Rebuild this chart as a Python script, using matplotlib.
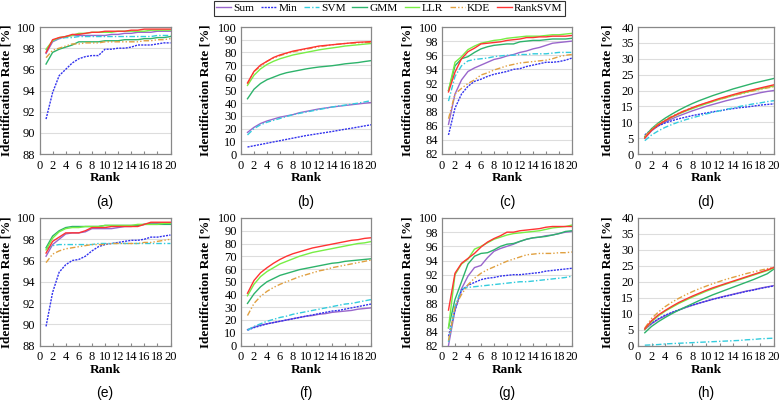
import matplotlib
matplotlib.use("Agg")
import matplotlib.pyplot as plt
import numpy as np

ranks = list(range(1, 21))
methods = ["Sum", "Min", "SVM", "GMM", "LLR", "KDE", "RankSVM"]
colors = {"Sum": "#9966CC", "Min": "#3333EE", "SVM": "#33CCDD", "GMM": "#2DB36B",
          "LLR": "#77EE44", "KDE": "#E0A040", "RankSVM": "#FF3333"}
styles = {"Sum": "-", "Min": (0, (1.5, 0.8)), "SVM": (0, (4, 1.5, 1, 1.5)), "GMM": "-",
          "LLR": "-", "KDE": (0, (4, 1.5, 1, 1.5, 1, 1.5)), "RankSVM": "-"}

# Panel (a)
a_sum = [97.5, 98.6, 98.9, 99.1, 99.2, 99.2, 99.2, 99.2, 99.2, 99.2, 99.3, 99.3, 99.4, 99.4, 99.5, 99.5, 99.5, 99.6, 99.6, 99.6]
a_min = [91.3, 93.8, 95.4, 96.0, 96.6, 97.0, 97.2, 97.3, 97.3, 97.9, 97.9, 98.0, 98.0, 98.1, 98.3, 98.3, 98.3, 98.4, 98.5, 98.5]
a_svm = [97.8, 98.7, 98.9, 99.0, 99.0, 99.1, 99.1, 99.1, 99.1, 99.1, 99.1, 99.1, 99.1, 99.1, 99.1, 99.1, 99.1, 99.2, 99.2, 99.2]
a_gmm = [96.5, 97.6, 97.9, 98.1, 98.3, 98.6, 98.6, 98.6, 98.6, 98.7, 98.7, 98.7, 98.8, 98.8, 98.8, 98.9, 98.9, 99.0, 99.0, 99.1]
a_llr = [97.9, 98.7, 99.0, 99.1, 99.2, 99.4, 99.4, 99.5, 99.5, 99.5, 99.5, 99.6, 99.6, 99.6, 99.6, 99.6, 99.7, 99.7, 99.7, 99.7]
a_kde = [97.1, 97.8, 98.0, 98.2, 98.4, 98.4, 98.5, 98.5, 98.5, 98.6, 98.6, 98.6, 98.6, 98.6, 98.6, 98.7, 98.7, 98.8, 98.8, 98.9]
a_rank = [97.6, 98.8, 99.0, 99.1, 99.3, 99.3, 99.4, 99.5, 99.5, 99.6, 99.6, 99.6, 99.6, 99.7, 99.7, 99.8, 99.8, 99.8, 99.8, 99.8]

# Panel (b)
b_sum = [17, 21, 24, 26, 27.5, 29, 30, 31, 32.5, 33.5, 34.5, 35.5, 36.2, 37, 37.6, 38.2, 38.8, 39.4, 40, 40.5]
b_min = [5.5, 6.5, 7.5, 8.5, 9.5, 10.5, 11.5, 12.5, 13.5, 14.5, 15.3, 16.1, 16.9, 17.7, 18.6, 19.5, 20.3, 21.2, 22.1, 23]
b_svm = [15, 20, 23, 25, 26.5, 28, 29.5, 31, 32, 33, 34, 35, 36, 37, 37.8, 38.5, 39.3, 40, 41, 42]
b_gmm = [43.5, 51, 55.5, 58.5, 60.5, 62.5, 64, 65, 66, 67, 67.8, 68.5, 69, 69.5, 70.2, 71, 71.5, 72, 72.8, 73.5]
b_llr = [54, 62, 67, 70.5, 73, 75, 76.5, 78, 79, 80, 81, 82, 82.8, 83.5, 84.2, 85, 85.5, 86, 86.5, 87]
b_kde = [55, 65, 69, 73, 75.5, 77.5, 79, 80.5, 81.5, 82.5, 83.5, 84.5, 85.2, 86, 86.5, 87, 87.3, 87.6, 87.8, 88]
b_rank = [56, 65, 70, 73, 76, 78, 79.5, 81, 82, 83, 84, 85, 85.5, 86, 86.5, 87, 87.5, 88, 88.2, 88.5]

# Panel (c)
c_sum = [86.2, 90.5, 92.5, 93.7, 94.2, 94.6, 95.0, 95.4, 95.6, 95.9, 96.1, 96.4, 96.6, 96.9, 97.1, 97.4, 97.7, 97.8, 97.9, 98.0]
c_min = [84.7, 88.5, 90.5, 91.6, 92.3, 92.6, 93.0, 93.3, 93.5, 93.7, 94.0, 94.1, 94.4, 94.6, 94.8, 95.0, 95.0, 95.1, 95.3, 95.6]
c_svm = [89.5, 93.0, 94.5, 95.2, 95.4, 95.5, 95.6, 95.8, 95.9, 96.0, 96.0, 96.1, 96.1, 96.2, 96.2, 96.2, 96.3, 96.4, 96.4, 96.4]
c_gmm = [91.0, 94.5, 95.5, 95.8, 96.4, 96.9, 97.2, 97.4, 97.5, 97.6, 97.6, 97.9, 98.0, 98.1, 98.1, 98.2, 98.3, 98.3, 98.3, 98.4]
c_llr = [91.0, 95.0, 95.8, 96.8, 97.3, 97.7, 97.9, 98.1, 98.2, 98.4, 98.5, 98.6, 98.7, 98.7, 98.7, 98.8, 98.9, 98.9, 99.0, 99.1]
c_kde = [87.0, 90.5, 91.3, 92.0, 92.5, 93.2, 93.5, 93.9, 94.2, 94.5, 94.7, 94.9, 95.0, 95.1, 95.2, 95.3, 95.5, 95.8, 96.0, 96.1]
c_rank = [90.8, 93.6, 95.5, 96.5, 97.0, 97.6, 97.7, 97.8, 97.9, 98.1, 98.2, 98.3, 98.5, 98.5, 98.6, 98.6, 98.7, 98.7, 98.7, 98.8]

# Panel (d)
d_sum = [5.0, 7.3, 8.9, 10.1, 11.1, 12.0, 12.8, 13.6, 14.3, 15.0, 15.6, 16.2, 16.8, 17.3, 17.8, 18.3, 18.8, 19.3, 19.7, 20.0]
d_min = [6.0, 7.7, 8.9, 9.8, 10.5, 11.1, 11.6, 12.1, 12.5, 12.9, 13.3, 13.6, 14.0, 14.3, 14.6, 14.8, 15.1, 15.4, 15.6, 15.8]
d_svm = [4.2, 6.0, 7.3, 8.4, 9.3, 10.1, 10.8, 11.4, 12.0, 12.6, 13.1, 13.6, 14.1, 14.5, 15.0, 15.4, 15.8, 16.1, 16.5, 16.8]
d_gmm = [5.5, 8.0, 9.8, 11.3, 12.6, 13.8, 14.9, 15.9, 16.8, 17.6, 18.4, 19.1, 19.8, 20.5, 21.1, 21.7, 22.3, 22.8, 23.3, 23.8]
d_llr = [5.2, 7.6, 9.2, 10.5, 11.6, 12.6, 13.5, 14.3, 15.1, 15.8, 16.5, 17.2, 17.8, 18.4, 19.0, 19.5, 20.0, 20.5, 21.0, 21.4]
d_kde = [5.5, 7.8, 9.5, 10.8, 11.9, 12.9, 13.8, 14.6, 15.3, 16.0, 16.6, 17.2, 17.8, 18.4, 18.9, 19.4, 19.9, 20.4, 20.8, 21.2]
d_rank = [5.0, 7.5, 9.2, 10.5, 11.7, 12.8, 13.7, 14.6, 15.4, 16.1, 16.8, 17.5, 18.1, 18.7, 19.3, 19.8, 20.3, 20.8, 21.3, 21.8]

# Panel (e)
e_sum = [96.4, 97.5, 98.0, 98.5, 98.6, 98.6, 98.7, 99.0, 99.0, 99.0, 99.0, 99.1, 99.2, 99.2, 99.3, 99.4, 99.5, 99.5, 99.5, 99.5]
e_min = [89.8, 93.0, 94.9, 95.6, 96.0, 96.1, 96.4, 96.9, 97.3, 97.5, 97.6, 97.7, 97.8, 97.9, 97.9, 98.0, 98.2, 98.2, 98.3, 98.4]
e_svm = [97.1, 97.4, 97.5, 97.5, 97.5, 97.5, 97.5, 97.5, 97.6, 97.6, 97.6, 97.6, 97.6, 97.6, 97.6, 97.6, 97.6, 97.6, 97.6, 97.6]
e_gmm = [97.2, 98.3, 98.8, 99.1, 99.2, 99.2, 99.2, 99.2, 99.2, 99.3, 99.3, 99.3, 99.3, 99.3, 99.3, 99.4, 99.4, 99.4, 99.4, 99.4]
e_llr = [97.0, 98.1, 98.7, 99.0, 99.1, 99.1, 99.2, 99.2, 99.2, 99.3, 99.3, 99.3, 99.3, 99.3, 99.4, 99.4, 99.4, 99.4, 99.5, 99.5]
e_kde = [95.8, 96.6, 96.9, 97.1, 97.2, 97.3, 97.4, 97.5, 97.5, 97.5, 97.6, 97.6, 97.6, 97.6, 97.6, 97.7, 97.7, 97.8, 97.9, 98.0]
e_rank = [96.7, 97.8, 98.2, 98.6, 98.6, 98.6, 98.8, 99.1, 99.1, 99.1, 99.2, 99.2, 99.2, 99.2, 99.2, 99.4, 99.6, 99.6, 99.6, 99.6]

# Panel (f)
f_sum = [12.5, 14.5, 16, 17, 18, 19, 20, 21, 22, 23, 23.5, 24.5, 25, 26, 26.5, 27, 27.5, 28.5, 29, 29.5]
f_min = [12, 14, 15.5, 17, 18, 19, 20, 21, 22, 23, 24, 25, 26, 27, 27.5, 28.5, 29.5, 30.5, 31.5, 32.5]
f_svm = [12, 15, 17, 19, 20.5, 22, 23, 24.5, 25.5, 26.5, 27.5, 28.5, 29.5, 30.5, 31.5, 32.5, 33, 34, 35, 36]
f_gmm = [33, 40.5, 46, 50, 52.5, 55, 56.5, 58, 59.5, 60.5, 61.5, 62.5, 63.5, 64.5, 65, 66, 66.5, 67, 67.5, 68]
f_llr = [39, 48, 54, 58, 61, 64, 66, 68, 70, 71.5, 73, 74, 75, 76, 77, 78, 79, 80, 80.5, 81.5]
f_kde = [23.5, 33, 38.5, 42.5, 45.5, 48, 50, 52, 54, 55.5, 57, 58.5, 59.5, 61, 62, 63, 64, 65, 66, 67]
f_rank = [41, 51, 57, 61, 64.5, 67.5, 70, 72, 73.5, 75, 76.5, 77.5, 78.5, 79.5, 80.5, 81.5, 82.5, 83, 84, 84.5]

# Panel (g)
g_sum = [82.0, 87.0, 90.0, 91.8, 93.0, 93.3, 94.4, 95.3, 95.7, 96.0, 96.3, 96.7, 97.0, 97.2, 97.3, 97.5, 97.6, 97.8, 98.0, 98.1]
g_min = [83.3, 87.0, 89.8, 90.5, 90.9, 91.3, 91.5, 91.6, 91.8, 91.9, 92.0, 92.0, 92.1, 92.2, 92.3, 92.5, 92.6, 92.7, 92.8, 92.9]
g_svm = [82.5, 87.5, 90.0, 90.2, 90.3, 90.4, 90.5, 90.6, 90.7, 90.8, 90.9, 91.0, 91.0, 91.1, 91.2, 91.3, 91.4, 91.5, 91.6, 91.8]
g_gmm = [84.5, 88.5, 91.0, 93.5, 94.6, 95.0, 95.1, 95.5, 96.0, 96.3, 96.4, 96.7, 97.0, 97.2, 97.3, 97.4, 97.6, 97.8, 98.1, 98.2]
g_llr = [84.5, 92.0, 93.5, 94.2, 95.6, 96.0, 96.5, 97.0, 97.3, 97.6, 97.8, 97.9, 98.0, 98.1, 98.2, 98.4, 98.6, 98.7, 98.8, 99.0]
g_kde = [82.7, 87.5, 89.2, 90.6, 91.5, 92.2, 92.7, 93.1, 93.5, 93.9, 94.2, 94.5, 94.8, 94.9, 95.0, 95.0, 95.0, 95.1, 95.1, 95.2]
g_rank = [87.0, 92.2, 93.6, 94.3, 95.0, 95.9, 96.6, 97.1, 97.5, 98.0, 98.0, 98.2, 98.3, 98.4, 98.5, 98.7, 98.8, 98.8, 98.8, 98.8]

# Panel (h)
h_sum = [5.0, 6.8, 8.2, 9.3, 10.3, 11.1, 11.9, 12.6, 13.3, 13.9, 14.5, 15.1, 15.6, 16.1, 16.6, 17.1, 17.5, 18.0, 18.4, 18.8]
h_min = [5.3, 7.0, 8.4, 9.5, 10.4, 11.2, 12.0, 12.7, 13.3, 13.9, 14.5, 15.0, 15.5, 16.0, 16.5, 17.0, 17.4, 17.9, 18.3, 18.7]
h_svm = [0.1, 0.2, 0.3, 0.5, 0.6, 0.7, 0.8, 0.9, 1.0, 1.1, 1.2, 1.3, 1.4, 1.5, 1.6, 1.8, 1.9, 2.1, 2.2, 2.3]
h_gmm = [4.0, 6.0, 7.5, 8.8, 10.0, 11.1, 12.1, 13.1, 14.1, 15.0, 15.9, 16.7, 17.5, 18.3, 19.1, 19.9, 20.7, 21.6, 22.5, 24.0]
h_llr = [5.0, 7.5, 9.3, 10.8, 12.0, 13.2, 14.2, 15.2, 16.1, 17.0, 17.8, 18.6, 19.3, 20.0, 20.7, 21.4, 22.1, 22.8, 23.5, 24.3]
h_kde = [5.5, 8.5, 10.5, 12.2, 13.6, 14.8, 15.9, 16.9, 17.8, 18.6, 19.4, 20.1, 20.8, 21.4, 22.0, 22.6, 23.1, 23.6, 24.1, 24.6]
h_rank = [5.2, 7.8, 9.6, 11.0, 12.3, 13.5, 14.5, 15.5, 16.4, 17.3, 18.1, 18.8, 19.5, 20.2, 20.9, 21.6, 22.3, 23.0, 23.7, 24.5]

panels = [
    ("(a)", [a_sum, a_min, a_svm, a_gmm, a_llr, a_kde, a_rank], (88, 100), 2),
    ("(b)", [b_sum, b_min, b_svm, b_gmm, b_llr, b_kde, b_rank], (0, 100), 10),
    ("(c)", [c_sum, c_min, c_svm, c_gmm, c_llr, c_kde, c_rank], (82, 100), 2),
    ("(d)", [d_sum, d_min, d_svm, d_gmm, d_llr, d_kde, d_rank], (0, 40), 5),
    ("(e)", [e_sum, e_min, e_svm, e_gmm, e_llr, e_kde, e_rank], (88, 100), 2),
    ("(f)", [f_sum, f_min, f_svm, f_gmm, f_llr, f_kde, f_rank], (0, 100), 10),
    ("(g)", [g_sum, g_min, g_svm, g_gmm, g_llr, g_kde, g_rank], (82, 100), 2),
    ("(h)", [h_sum, h_min, h_svm, h_gmm, h_llr, h_kde, h_rank], (0, 40), 5),
]

W, H = 779, 401
fig = plt.figure(figsize=(W / 100, H / 100), dpi=100)
serif = ["Liberation Serif", "DejaVu Serif"]

lefts = [39.5, 241, 442, 638]
rights = [170.5, 371, 572, 774]
tops = [27, 218]
bottoms = [154, 345.5]
ylabel_x = [7, 205, 407, 608]
xlabel_y = [178, 370]
sub_y = [202, 393]

handles = []
for i, (lab, series, ylim, ystep) in enumerate(panels):
    r, c = divmod(i, 4)
    l, rt = lefts[c], rights[c]
    t, b = tops[r], bottoms[r]
    ax = fig.add_axes([l / W, 1 - b / H, (rt - l) / W, (b - t) / H])
    for name, vals in zip(methods, series):
        ln, = ax.plot(ranks, vals, color=colors[name], linestyle=styles[name], lw=1.0, label=name)
        if i == 0:
            handles.append(ln)
    ax.set_xlim(0, 20)
    ax.set_ylim(*ylim)
    ax.set_xticks(range(0, 21, 2))
    ax.set_yticks(np.arange(ylim[0], ylim[1] + 0.01, ystep))
    ax.yaxis.grid(True, color="#DDDDDD", lw=0.8)
    ax.set_axisbelow(True)
    for sp in ax.spines.values():
        sp.set_color("#888888")
        sp.set_linewidth(0.9)
    ax.tick_params(axis="x", direction="in", length=2.5, color="#888888", pad=4)
    ax.tick_params(axis="y", length=0, pad=3)
    for tl in ax.get_xticklabels() + ax.get_yticklabels():
        tl.set_fontfamily(serif)
        tl.set_fontsize(9)
    ax.set_xlabel("Rank", fontfamily=serif, fontweight="bold", fontsize=9.5)
    ax.set_ylabel("Identification Rate [%]", fontfamily=serif, fontweight="bold", fontsize=9.5)
    ax.yaxis.set_label_coords((ylabel_x[c] - l) / (rt - l), 0.5)
    ax.xaxis.set_label_coords(0.5, (b - xlabel_y[r]) / (b - t))
    ax.xaxis.label.set_va("center")
    ax.yaxis.label.set_va("center")
    fig.text((l + rt) / 2 / W, 1 - sub_y[r] / H, lab,
             ha="center", va="center", fontsize=10, fontfamily=["Liberation Sans", "DejaVu Sans"])

leg = fig.legend(handles, methods, loc="upper center", bbox_to_anchor=(0.5, 1.0), ncol=7,
                 frameon=True, fancybox=False, edgecolor="#333333", framealpha=1,
                 prop={"family": serif, "size": 8.2}, handlelength=1.3, handletextpad=0.2,
                 columnspacing=0.6, borderpad=0.2, borderaxespad=0.1)
leg.get_frame().set_linewidth(0.8)

fig.savefig("out.png", dpi=100)
